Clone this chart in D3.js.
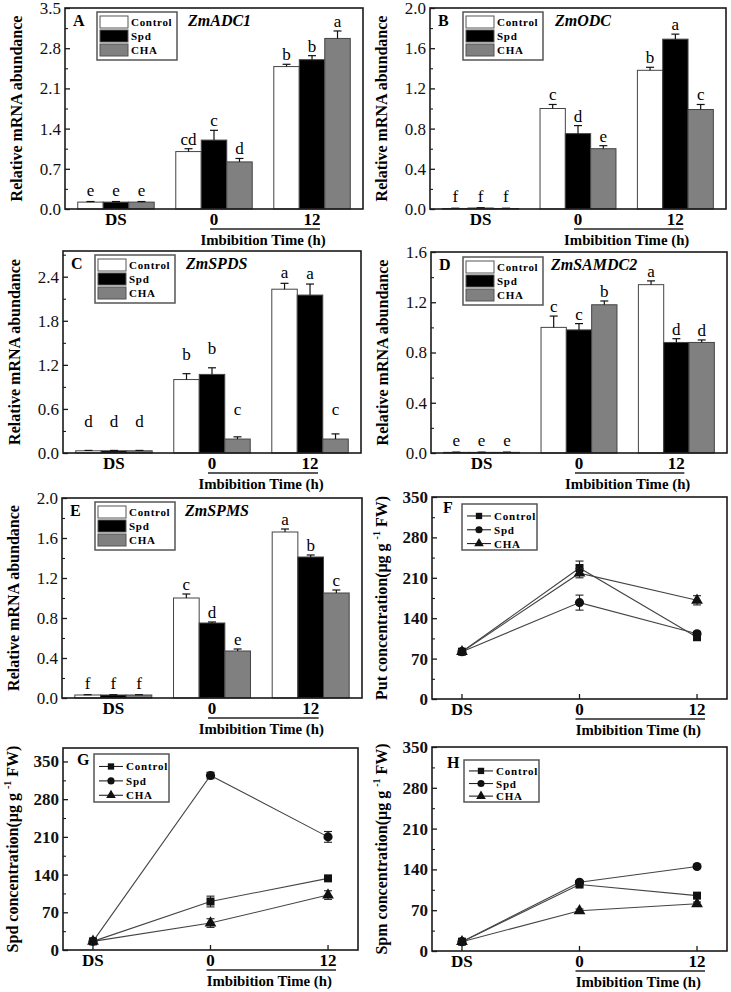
<!DOCTYPE html>
<html><head><meta charset="utf-8">
<script src="https://cdn.jsdelivr.net/npm/d3@7"></script>
<style>
body{margin:0;background:#fff}
svg{display:block}
text{font-family:"Liberation Serif","Times New Roman",serif}
</style>
</head><body>
<svg id="chart" width="731" height="992"></svg>
<script>
// ---------------- DATA ----------------
const categories = ["DS", "0", "12"];
const seriesNames = ["Control", "Spd", "CHA"];

// A  ZmADC1
const adc1Control = [0.12, 1.00, 2.48];
const adc1Spd     = [0.12, 1.20, 2.60];
const adc1CHA     = [0.12, 0.82, 2.97];
const adc1ErrControl = [0.01, 0.05, 0.04];
const adc1ErrSpd     = [0.01, 0.17, 0.07];
const adc1ErrCHA     = [0.01, 0.06, 0.13];
const adc1Letters = [["e", "cd", "b"], ["e", "c", "b"], ["e", "d", "a"]];

// B  ZmODC
const odcControl = [0.005, 1.00, 1.38];
const odcSpd     = [0.01, 0.75, 1.69];
const odcCHA     = [0.005, 0.60, 0.99];
const odcErrControl = [0.003, 0.04, 0.03];
const odcErrSpd     = [0.003, 0.08, 0.05];
const odcErrCHA     = [0.003, 0.03, 0.05];
const odcLetters = [["f", "c", "b"], ["f", "d", "a"], ["f", "e", "c"]];

// C  ZmSPDS
const spdsControl = [0.03, 1.00, 2.23];
const spdsSpd     = [0.03, 1.07, 2.15];
const spdsCHA     = [0.03, 0.19, 0.19];
const spdsErrControl = [0.005, 0.08, 0.08];
const spdsErrSpd     = [0.005, 0.09, 0.15];
const spdsErrCHA     = [0.005, 0.03, 0.07];
const spdsLetters = [["d", "b", "a"], ["d", "b", "a"], ["d", "c", "c"]];

// D  ZmSAMDC2
const samdcControl = [0.005, 1.00, 1.34];
const samdcSpd     = [0.005, 0.98, 0.88];
const samdcCHA     = [0.005, 1.18, 0.88];
const samdcErrControl = [0.002, 0.09, 0.03];
const samdcErrSpd     = [0.002, 0.05, 0.03];
const samdcErrCHA     = [0.002, 0.03, 0.02];
const samdcLetters = [["e", "c", "a"], ["e", "c", "d"], ["e", "b", "d"]];

// E  ZmSPMS
const spmsControl = [0.03, 1.00, 1.66];
const spmsSpd     = [0.03, 0.75, 1.41];
const spmsCHA     = [0.03, 0.47, 1.05];
const spmsErrControl = [0.003, 0.04, 0.03];
const spmsErrSpd     = [0.003, 0.01, 0.02];
const spmsErrCHA     = [0.003, 0.02, 0.03];
const spmsLetters = [["f", "c", "a"], ["f", "d", "b"], ["f", "e", "c"]];

// F  Put concentration
const putControl = [82, 227, 107];
const putSpd     = [82, 167, 113];
const putCHA     = [82, 218, 171];
const putErrControl = [3, 12, 5];
const putErrSpd     = [3, 13, 4];
const putErrCHA     = [3, 8, 8];

// G  Spd concentration
const spdControl = [16, 90, 133];
const spdSpd     = [16, 324, 210];
const spdCHA     = [16, 50, 102];
const spdErrControl = [3, 10, 3];
const spdErrSpd     = [3, 6, 10];
const spdErrCHA     = [3, 8, 8];

// H  Spm concentration
const spmControl = [16, 114, 95];
const spmSpd     = [16, 118, 145];
const spmCHA     = [16, 69, 81];
const spmErrControl = [3, 3, 3];
const spmErrSpd     = [3, 3, 3];
const spmErrCHA     = [3, 3, 3];

// ---------------- DRAWING ----------------
const svg = d3.select("#chart");
const barFill = ["#ffffff", "#000000", "#808080"];
const FRAME = "#1a1a1a";

function yAxes(g, cfg, y, fmt) {
  const major = d3.range(0, cfg.yMax + 1e-9, cfg.step);
  const minor = d3.range(cfg.step / 2, cfg.yMax + 1e-9, cfg.step);
  const ax = g.append("g").attr("transform", `translate(${cfg.left},0)`)
    .call(d3.axisLeft(y).tickValues(major).tickSizeInner(-5).tickSizeOuter(0).tickPadding(4).tickFormat(fmt));
  ax.select(".domain").remove();
  ax.selectAll("line").attr("stroke", FRAME).attr("stroke-width", 1.3);
  ax.selectAll("text").attr("font-family", '"Liberation Serif",serif')
    .attr("font-size", cfg.tickSize || 17).attr("font-weight", cfg.tickBold ? "bold" : "normal")
    .attr("fill", "#111");
  const mx = g.append("g").attr("transform", `translate(${cfg.left},0)`)
    .call(d3.axisLeft(y).tickValues(minor).tickSizeInner(-3).tickSizeOuter(0).tickFormat(""));
  mx.select(".domain").remove();
  mx.selectAll("line").attr("stroke", FRAME).attr("stroke-width", 1.1);
}

function xLabels(g, cfg, xc, withTicks) {
  categories.forEach(c => {
    g.append("text").attr("x", xc(c)).attr("y", cfg.bottom + 16)
      .attr("text-anchor", "middle").attr("font-size", 17).attr("font-weight", "bold").text(c);
    if (withTicks) {
      g.append("line").attr("x1", xc(c)).attr("x2", xc(c)).attr("y1", cfg.bottom).attr("y2", cfg.bottom - 5)
        .attr("stroke", FRAME).attr("stroke-width", 1.3);
    }
  });
  g.append("line").attr("x1", xc("0") - 4).attr("x2", xc("12") + 8)
    .attr("y1", cfg.bottom + 20).attr("y2", cfg.bottom + 20).attr("stroke", "#222").attr("stroke-width", 1.3);
  g.append("text").attr("x", (xc("0") + xc("12")) / 2).attr("y", cfg.bottom + 36)
    .attr("text-anchor", "middle").attr("font-size", 14.8).attr("font-weight", "bold").text("Imbibition Time (h)");
}

function frame(g, cfg) {
  g.append("rect").attr("x", cfg.left).attr("y", cfg.top)
    .attr("width", cfg.right - cfg.left).attr("height", cfg.bottom - cfg.top)
    .attr("fill", "none").attr("stroke", FRAME).attr("stroke-width", 1.6);
}

function barPanel(cfg) {
  const g = svg.append("g");
  const x = d3.scaleBand().domain(categories).range([cfg.left, cfg.right]).paddingInner(0.22).paddingOuter(0.13);
  const xs = d3.scaleBand().domain(seriesNames).range([0, x.bandwidth()]);
  const y = d3.scaleLinear().domain([0, cfg.yMax]).range([cfg.bottom, cfg.top]);

  seriesNames.forEach((s, si) => {
    categories.forEach((c, ci) => {
      const v = cfg.values[si][ci], e = cfg.errors[si][ci];
      const bx = x(c) + xs(s), bw = xs.bandwidth();
      g.append("rect").attr("x", bx).attr("y", y(v)).attr("width", bw).attr("height", y(0) - y(v))
        .attr("fill", barFill[si]).attr("stroke", "#444").attr("stroke-width", 1);
      const cx = bx + bw / 2;
      g.append("line").attr("x1", cx).attr("x2", cx).attr("y1", y(v)).attr("y2", y(v + e))
        .attr("stroke", "#111").attr("stroke-width", 1.2);
      g.append("line").attr("x1", cx - 4).attr("x2", cx + 4).attr("y1", y(v + e)).attr("y2", y(v + e))
        .attr("stroke", "#111").attr("stroke-width", 1.2);
      const lift = cfg.letterLift ? cfg.letterLift[si][ci] : (ci === 0 ? 6 : 4);
      g.append("text").attr("x", cx).attr("y", y(v + e) - lift).attr("text-anchor", "middle")
        .attr("font-size", 17).text(cfg.letters[si][ci]);
    });
  });

  frame(g, cfg);
  yAxes(g, cfg, y, d3.format(".1f"));
  xLabels(g, cfg, c => x(c) + x.bandwidth() / 2, false);

  g.append("text").attr("transform", `translate(${cfg.left - 43},${(cfg.top + cfg.bottom) / 2}) rotate(-90)`)
    .attr("text-anchor", "middle").attr("font-size", 16).attr("font-weight", "bold").text("Relative mRNA abundance");

  g.append("text").attr("x", cfg.left + 8).attr("y", cfg.top + 18).attr("font-size", 16).attr("font-weight", "bold").text(cfg.id);
  g.append("text").attr("x", cfg.left + cfg.geneDx).attr("y", cfg.top + 18).attr("font-size", 16)
    .attr("font-weight", "bold").attr("font-style", "italic").text(cfg.gene);

  const L = cfg.legend;
  g.append("rect").attr("x", L.x).attr("y", L.y).attr("width", 80).attr("height", 48)
    .attr("fill", "#fff").attr("stroke", "#555").attr("stroke-width", 1.5);
  seriesNames.forEach((s, si) => {
    const ry = L.y + 4 + si * 14;
    g.append("rect").attr("x", L.x + 3).attr("y", ry).attr("width", 28).attr("height", 12)
      .attr("fill", barFill[si]).attr("stroke", "#555").attr("stroke-width", 1);
    g.append("text").attr("x", L.x + 34).attr("y", ry + 10).attr("font-size", 11).attr("font-weight", "bold")
      .attr("letter-spacing", 0.7).text(s);
  });
}

function markerPath(si) {
  if (si === 0) return d3.symbol().type(d3.symbolSquare).size(64)();
  if (si === 1) return d3.symbol().type(d3.symbolCircle).size(66)();
  return d3.symbol().type(d3.symbolTriangle).size(60)();
}

function linePanel(cfg) {
  const g = svg.append("g");
  const x = d3.scalePoint().domain(categories).range([cfg.left, cfg.right]).padding(0.255);
  const y = d3.scaleLinear().domain([0, cfg.yMax]).range([cfg.bottom, cfg.top]);
  const line = d3.line().x((d, i) => x(categories[i])).y(d => y(d));

  seriesNames.forEach((s, si) => {
    g.append("path").attr("d", line(cfg.values[si])).attr("fill", "none")
      .attr("stroke", "#444").attr("stroke-width", 1.1);
  });
  seriesNames.forEach((s, si) => {
    categories.forEach((c, ci) => {
      const v = cfg.values[si][ci], e = cfg.errors[si][ci];
      const cx = x(c);
      g.append("line").attr("x1", cx).attr("x2", cx).attr("y1", y(v - e)).attr("y2", y(v + e))
        .attr("stroke", "#222").attr("stroke-width", 1.1);
      [v - e, v + e].forEach(t => g.append("line").attr("x1", cx - 4).attr("x2", cx + 4)
        .attr("y1", y(t)).attr("y2", y(t)).attr("stroke", "#222").attr("stroke-width", 1.1));
      g.append("path").attr("d", markerPath(si)).attr("transform", `translate(${cx},${y(v)})`).attr("fill", "#111");
    });
  });

  frame(g, cfg);
  yAxes(g, cfg, y, d3.format("d"));
  xLabels(g, cfg, c => x(c), true);

  const t = g.append("text").attr("transform", `translate(${cfg.left - 45},${(cfg.top + cfg.bottom) / 2}) rotate(-90)`)
    .attr("text-anchor", "middle").attr("font-size", 16).attr("font-weight", "bold");
  t.append("tspan").text(cfg.yTitle + " concentration(\u03bcg g ");
  t.append("tspan").attr("dy", -7).attr("font-size", 10).text("-1");
  t.append("tspan").attr("dy", 7).text(" FW)");

  g.append("text").attr("x", cfg.left + cfg.letterDx).attr("y", cfg.top + cfg.letterDy).attr("font-size", 16)
    .attr("font-weight", "bold").text(cfg.id);

  const L = cfg.legend;
  g.append("rect").attr("x", L.x).attr("y", L.y).attr("width", 75).attr("height", L.h)
    .attr("fill", "#fff").attr("stroke", "#555").attr("stroke-width", 1.5);
  seriesNames.forEach((s, si) => {
    const ry = L.y + L.h * 0.26 + si * (L.h * 0.3);
    g.append("line").attr("x1", L.x + 5).attr("x2", L.x + 29).attr("y1", ry).attr("y2", ry)
      .attr("stroke", "#222").attr("stroke-width", 1.1);
    g.append("path").attr("d", d3.symbol().type([d3.symbolSquare, d3.symbolCircle, d3.symbolTriangle][si]).size(40)())
      .attr("transform", `translate(${L.x + 17},${ry})`).attr("fill", "#111");
    g.append("text").attr("x", L.x + 32).attr("y", ry + 4).attr("font-size", 11).attr("font-weight", "bold")
      .attr("letter-spacing", 0.8).text(s);
  });
}

barPanel({id: "A", gene: "ZmADC1", left: 65, right: 363, top: 8, bottom: 209, yMax: 3.5, step: 0.7, geneDx: 123,
  values: [adc1Control, adc1Spd, adc1CHA], errors: [adc1ErrControl, adc1ErrSpd, adc1ErrCHA], letters: adc1Letters,
  legend: {x: 97, y: 12}});
barPanel({id: "B", gene: "ZmODC", left: 430, right: 726, top: 8, bottom: 209, yMax: 2.0, step: 0.4, geneDx: 125,
  values: [odcControl, odcSpd, odcCHA], errors: [odcErrControl, odcErrSpd, odcErrCHA], letters: odcLetters,
  legend: {x: 463, y: 12}});
barPanel({id: "C", gene: "ZmSPDS", left: 63, right: 361, top: 251, bottom: 453, yMax: 2.75, step: 0.6, geneDx: 123,
  values: [spdsControl, spdsSpd, spdsCHA], errors: [spdsErrControl, spdsErrSpd, spdsErrCHA], letters: spdsLetters,
  letterLift: [[23, 14, 5], [23, 14, 5], [23, 22, 19]],
  legend: {x: 95, y: 255}});
barPanel({id: "D", gene: "ZmSAMDC2", left: 431, right: 727, top: 252, bottom: 453, yMax: 1.6, step: 0.4, geneDx: 120,
  values: [samdcControl, samdcSpd, samdcCHA], errors: [samdcErrControl, samdcErrSpd, samdcErrCHA], letters: samdcLetters,
  legend: {x: 463, y: 257}});
barPanel({id: "E", gene: "ZmSPMS", left: 62, right: 362, top: 498, bottom: 698, yMax: 2.0, step: 0.4, geneDx: 123,
  values: [spmsControl, spmsSpd, spmsCHA], errors: [spmsErrControl, spmsErrSpd, spmsErrCHA], letters: spmsLetters,
  legend: {x: 95, y: 502}});

linePanel({id: "F", yTitle: "Put", left: 432, right: 727, top: 497, bottom: 699, yMax: 350, step: 70, tickBold: true,
  letterDx: 11, letterDy: 16,
  values: [putControl, putSpd, putCHA], errors: [putErrControl, putErrSpd, putErrCHA],
  legend: {x: 462, y: 504, h: 46}});
linePanel({id: "G", yTitle: "Spd", left: 63, right: 358, top: 748, bottom: 950, yMax: 375, step: 70, tickBold: true,
  letterDx: 14, letterDy: 17,
  values: [spdControl, spdSpd, spdCHA], errors: [spdErrControl, spdErrSpd, spdErrCHA],
  legend: {x: 94, y: 754, h: 48}});
linePanel({id: "H", yTitle: "Spm", left: 432, right: 727, top: 747, bottom: 951, yMax: 350, step: 70, tickBold: true,
  letterDx: 15, letterDy: 21,
  values: [spmControl, spmSpd, spmCHA], errors: [spmErrControl, spmErrSpd, spmErrCHA],
  legend: {x: 464, y: 760, h: 42}});
</script>
</body></html>
